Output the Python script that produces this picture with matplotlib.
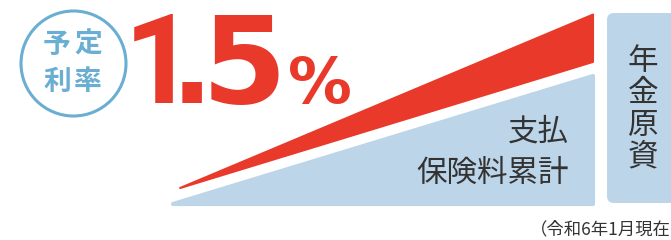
import matplotlib as mpl
import matplotlib.pyplot as plt
from matplotlib.patches import Polygon, Circle, FancyBboxPatch

mpl.use('Agg')

plt.rcParams['font.family'] = ['Noto Sans CJK JP', 'DejaVu Sans']

# growth over the contract term (0 = start, 1 = annuity start)
term = [0.0, 1.0]
premium_total = [0.0, 1.0]           # 支払保険料累計
fund_tip = [0.017, 0.125]            # start point of the red band
fund_low_end = 1.11                  # lower edge of red band at term end
fund_high_end = 1.48                 # upper edge of red band at term end

rate_label = ["1", ".", "5", "%"]
circle_rows = [["予", "定"], ["利", "率"]]
premium_rows = ["支払", "保険料累計"]
fund_label = "年金原資"
note = "（令和6年1月現在"

RED = "#e8392a"
BLUE_FILL = "#bdd5e8"
BLUE_LINE = "#6aaed2"
TEXT = "#333333"

fig = plt.figure(figsize=(6.71, 2.40), dpi=100)

# chart area for the wedges
cx = fig.add_axes([173 / 671, 36 / 240, 420 / 671, 128 / 240])
cx.set_xlim(0, 1)
cx.set_ylim(0, 1)
cx.axis('off')

# overlay in pixel coordinates for labels
ax = fig.add_axes([0, 0, 1, 1])
ax.set_xlim(0, 671)
ax.set_ylim(240, 0)
ax.axis('off')

tri = Polygon([(term[0], premium_total[0]), (term[1], 0.0), (term[1], premium_total[1])],
              closed=True, facecolor=BLUE_FILL, edgecolor=BLUE_FILL, lw=3,
              joinstyle='round', clip_on=False)
cx.add_patch(tri)

wedge = Polygon([tuple(fund_tip), (term[1], fund_low_end), (term[1], fund_high_end)],
                closed=True, facecolor=RED, edgecolor=RED, lw=1.5,
                joinstyle='round', clip_on=False)
cx.add_patch(wedge)

# annuity fund box
box = FancyBboxPatch((607, 13), 80, 190, boxstyle="round,pad=0,rounding_size=7",
                     facecolor=BLUE_FILL, edgecolor='none')
ax.add_patch(box)
for i, ch in enumerate(fund_label):
    ax.text(643, 62 + i * 31.7, ch, fontsize=22, color=TEXT, ha='center', va='center')

# premium label
ax.text(569, 132, premium_rows[0], fontsize=22, color=TEXT, ha='right', va='center')
ax.text(569, 173, premium_rows[1], fontsize=22, color=TEXT, ha='right', va='center')

# circle with 予定利率
ax.add_patch(Circle((73.5, 63.5), 52.5, facecolor='white', edgecolor=BLUE_LINE, lw=2.2))
for r, row in enumerate(circle_rows):
    for c, ch in enumerate(row):
        ax.text(57 + c * 31, 45 + r * 37, ch, fontsize=20, fontweight='bold',
                color=BLUE_LINE, ha='center', va='center')

# big rate
xs = [160, 192, 244, 320]
sizes = [90, 80, 88, 46]
fams = ['Roboto', 'DejaVu Sans', 'DejaVu Sans', 'DejaVu Sans']
for ch, x, s, f in zip(rate_label, xs, sizes, fams):
    ax.text(x, 103, ch, fontsize=s, fontweight='bold', color=RED, ha='center',
            va='baseline', family=f)

ax.text(671, 229, note, fontsize=12.5, color=TEXT, ha='right', va='center')

plt.savefig("out.png", dpi=100)
